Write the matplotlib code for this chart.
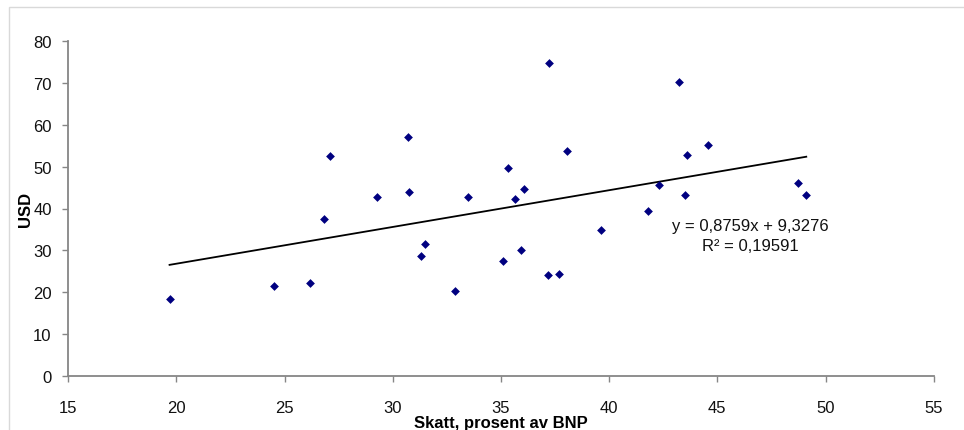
import matplotlib
matplotlib.use("Agg")
import matplotlib.pyplot as plt
from matplotlib.patches import Rectangle
import numpy as np

plt.rcParams['font.family'] = ['Liberation Sans', 'DejaVu Sans']

# Data: tax as % of GDP vs USD
skatt = [19.68, 24.51, 26.19, 26.80, 27.11, 29.28, 30.68, 30.77, 31.49, 31.28,
         32.89, 33.46, 35.34, 35.07, 35.66, 36.06, 35.91, 37.20, 37.17, 37.69,
         38.05, 39.61, 41.80, 42.31, 43.23, 43.61, 43.50, 44.55, 48.71, 49.11]
usd = [18.5, 21.6, 22.3, 37.4, 52.5, 42.7, 57.0, 43.9, 31.6, 28.6,
       20.3, 42.7, 49.7, 27.4, 42.2, 44.6, 30.0, 74.7, 24.1, 24.4,
       53.7, 34.9, 39.5, 45.7, 70.2, 52.8, 43.2, 55.1, 46.1, 43.1]
slope = 0.8759
intercept = 9.3276
r2 = 0.19591
xticks = [15, 20, 25, 30, 35, 40, 45, 50, 55]
yticks = [0, 10, 20, 30, 40, 50, 60, 70, 80]

W, H = 964, 431
fig = plt.figure(figsize=(W / 100, H / 100), dpi=100)
fig.patches.append(Rectangle((9 / W, -0.1), 1.2, (H - 8) / H + 0.1,
                             transform=fig.transFigure, fill=False,
                             edgecolor='#d9d9d9', linewidth=1))

left, right, top, bottom = 68.3, 933.7, 41.7, 377.3
ax = fig.add_axes([left / W, (H - bottom) / H, (right - left) / W, (bottom - top) / H])

ax.scatter(skatt, usd, marker='D', s=20, color='#000080', zorder=3, linewidths=0)
xs = np.array([min(skatt), max(skatt)])
ax.plot(xs, slope * xs + intercept, color='black', linewidth=1.3, zorder=2)

ax.set_xlim(15, 55)
ax.set_ylim(0, 80)
ax.set_xticks(xticks)
ax.set_yticks(yticks)
ax.tick_params(axis='both', labelsize=12, length=4, width=1, color='#868686',
               labelcolor='#111111', pad=8)
ax.tick_params(axis='x', pad=13)
for s in ['top', 'right']:
    ax.spines[s].set_visible(False)
for s in ['left', 'bottom']:
    ax.spines[s].set_color('#868686')
    ax.spines[s].set_linewidth(1.3)

ax.set_xlabel('Skatt, prosent av BNP', fontsize=12, fontweight='bold', labelpad=0)
ax.set_ylabel('USD', fontsize=12, fontweight='bold', labelpad=0)

eq = ('y = ' + f'{slope:.4f}'.replace('.', ',') + 'x + ' + f'{intercept:.4f}'.replace('.', ',')
      + '\nR² = ' + f'{r2:.5f}'.replace('.', ','))
ax.text(46.54, 33.6, eq, ha='center', va='center', multialignment='center',
        fontsize=12, color='#111111', linespacing=1.45)

fig.savefig('out.png', dpi=100)
